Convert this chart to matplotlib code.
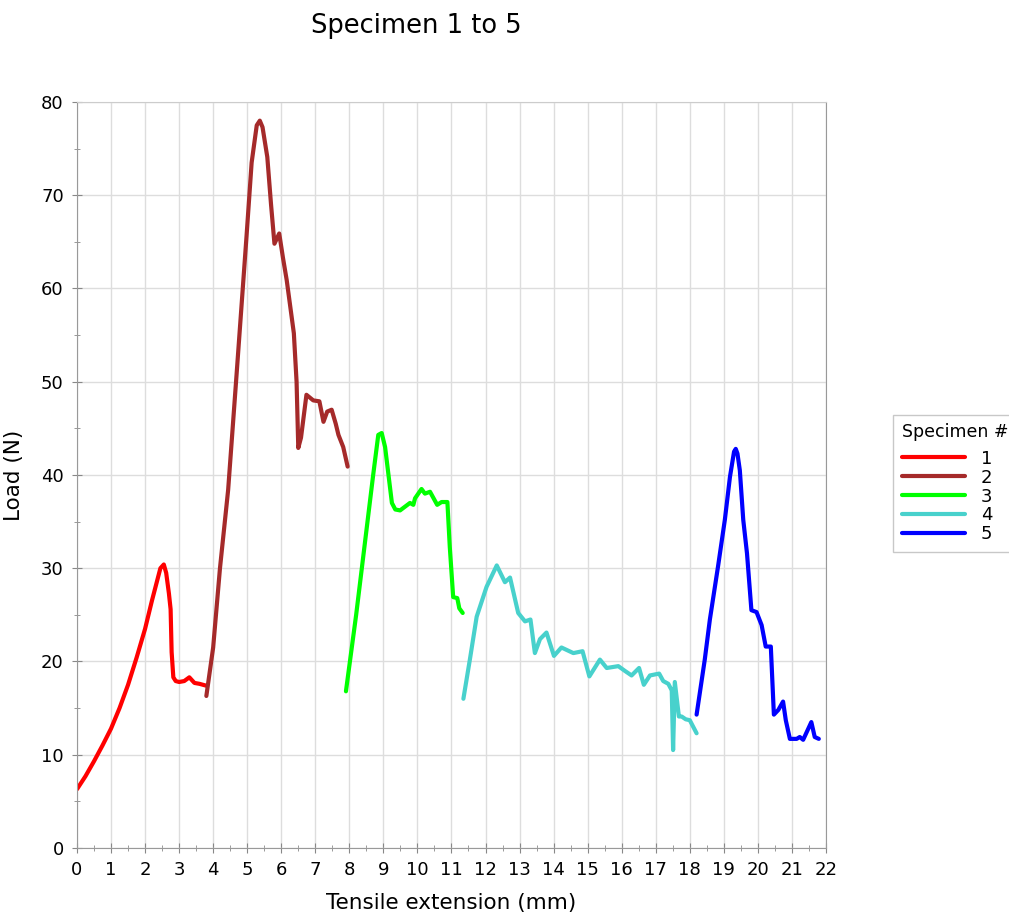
import matplotlib.pyplot as plt
from matplotlib.ticker import MultipleLocator

# Specimen 1
x1 = [0, 0.25, 0.5, 0.75, 1.0, 1.25, 1.5, 1.75, 2.0, 2.2, 2.35, 2.45, 2.55, 2.62, 2.7, 2.75, 2.78, 2.83, 2.9, 3.0, 3.15, 3.3, 3.45, 3.6, 3.8]
y1 = [6.3, 7.7, 9.3, 11.0, 12.8, 15.0, 17.5, 20.4, 23.5, 26.5, 28.6, 30.0, 30.4, 29.5, 27.3, 25.6, 21.0, 18.3, 17.9, 17.8, 17.9, 18.3, 17.7, 17.6, 17.4]

# Specimen 2
x2 = [3.8, 4.0, 4.2, 4.44, 4.69, 4.98, 5.13, 5.28, 5.37, 5.45, 5.59, 5.7, 5.8, 5.94, 6.05, 6.16, 6.37, 6.45, 6.5, 6.58, 6.74, 6.94, 7.12, 7.24, 7.35, 7.48, 7.6, 7.68, 7.82, 7.95]
y2 = [16.3, 21.5, 30.0, 38.4, 50.9, 65.6, 73.5, 77.5, 78.0, 77.3, 74.1, 69.0, 64.8, 65.9, 63.3, 60.9, 55.2, 50.0, 42.9, 44.0, 48.6, 48.0, 47.9, 45.7, 46.8, 47.0, 45.5, 44.3, 43.0, 40.9]

# Specimen 3
x3 = [7.9, 8.2, 8.5, 8.7, 8.85, 8.95, 9.05, 9.15, 9.25, 9.35, 9.49, 9.78, 9.88, 9.93, 10.12, 10.22, 10.37, 10.58, 10.71, 10.88, 10.95, 11.05, 11.17, 11.23, 11.33]
y3 = [16.8, 25.0, 34.0, 40.0, 44.3, 44.5, 43.0, 40.0, 37.0, 36.3, 36.2, 37.0, 36.8, 37.5, 38.5, 38.0, 38.2, 36.8, 37.1, 37.1, 32.3, 26.9, 26.8, 25.7, 25.2]

# Specimen 4
x4 = [11.35, 11.54, 11.74, 12.03, 12.33, 12.57, 12.72, 12.96, 13.16, 13.32, 13.45, 13.6, 13.79, 14.01, 14.23, 14.58, 14.85, 15.05, 15.36, 15.56, 15.9, 16.09, 16.29, 16.51, 16.65, 16.83, 17.1, 17.22, 17.37, 17.47, 17.51, 17.56, 17.68, 17.76, 17.88, 18.0, 18.2]
y4 = [16.0, 20.2, 24.8, 28.0, 30.3, 28.5, 29.0, 25.2, 24.3, 24.5, 20.9, 22.4, 23.1, 20.6, 21.5, 20.9, 21.1, 18.4, 20.2, 19.3, 19.5, 19.0, 18.5, 19.3, 17.5, 18.5, 18.7, 17.9, 17.6, 16.9, 10.5, 17.8, 14.1, 14.1, 13.8, 13.7, 12.3]

# Specimen 5
x5 = [18.2, 18.44, 18.59, 18.83, 19.03, 19.18, 19.3, 19.35, 19.4, 19.47, 19.57, 19.68, 19.81, 19.96, 20.11, 20.23, 20.38, 20.47, 20.6, 20.74, 20.82, 20.94, 21.14, 21.23, 21.33, 21.57, 21.67, 21.79]
y5 = [14.3, 20.2, 24.5, 30.2, 35.2, 39.8, 42.5, 42.8, 42.3, 40.5, 35.2, 31.6, 25.5, 25.3, 23.9, 21.6, 21.6, 14.3, 14.8, 15.7, 13.7, 11.7, 11.7, 11.9, 11.6, 13.5, 11.9, 11.7]

series = [(x1, y1, '1', '#ff0000'), (x2, y2, '2', '#a52a2a'), (x3, y3, '3', '#00ff00'),
          (x4, y4, '4', '#48d1cc'), (x5, y5, '5', '#0000ff')]

fig = plt.figure(figsize=(10.09, 9.19), dpi=100)
ax = fig.add_axes([0.0763, 0.0773, 0.7423, 0.8117])

for x, y, lab, col in series:
    ax.plot(x, y, color=col, linewidth=3.0, label=lab, solid_joinstyle='round',
            solid_capstyle='round')

ax.set_xlim(0, 22)
ax.set_ylim(0, 80)
ax.xaxis.set_major_locator(MultipleLocator(1))
ax.xaxis.set_minor_locator(MultipleLocator(0.5))
ax.yaxis.set_major_locator(MultipleLocator(10))
ax.yaxis.set_minor_locator(MultipleLocator(5))
ax.grid(True, which='major', color='#dddddd', linewidth=1)
ax.set_axisbelow(True)
ax.tick_params(which='both', direction='inout', color='#888888', labelsize=13, pad=6)
ax.tick_params(which='major', length=7)
ax.tick_params(which='minor', length=5)
for s in ['left', 'bottom', 'right']:
    ax.spines[s].set_color('#999999')
ax.spines['top'].set_color('#cccccc')

ax.set_xlabel('Tensile extension (mm)', fontsize=15.5, labelpad=10)
ax.set_ylabel('Load (N)', fontsize=15.5, labelpad=12)
fig.text(0.413, 0.972, 'Specimen 1 to 5', fontsize=18.5, ha='center', va='center')

leg = ax.legend(title='Specimen #', loc='upper left', bbox_to_anchor=(1.090, 0.580),
                fontsize=13, title_fontsize=12.5, handlelength=3.5, frameon=True,
                fancybox=False, edgecolor='#bbbbbb', borderpad=0.45, labelspacing=0.05,
                handletextpad=0.9, borderaxespad=0)
leg._legend_box.align = 'left'
leg._legend_box.sep = 6
leg.get_frame().set_linewidth(1.0)

fig.savefig('out.png', dpi=100)
